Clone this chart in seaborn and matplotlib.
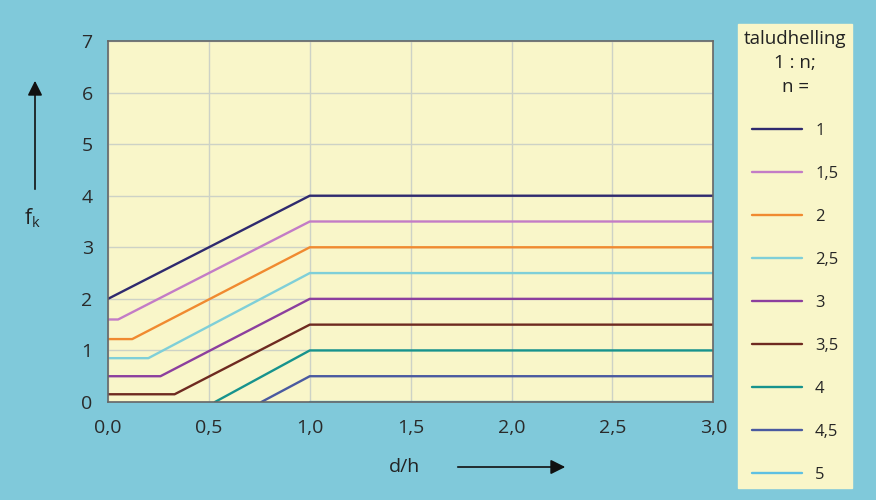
import pandas as pd
import seaborn as sns
import matplotlib.pyplot as plt

# breakpoints of each curve (d/h, f_k)
slopes = ["1", "1,5", "2", "2,5", "3", "3,5", "4", "4,5", "5"]
x_vals = [
    [0, 1.0, 3.0],
    [0, 0.05, 1.0, 3.0],
    [0, 0.12, 1.0, 3.0],
    [0, 0.20, 1.0, 3.0],
    [0, 0.26, 1.0, 3.0],
    [0, 0.33, 1.0, 3.0],
    [0.53, 1.0, 3.0],
    [0.76, 1.0, 3.0],
    [1.0, 3.0],
]
y_vals = [
    [2.0, 4.0, 4.0],
    [1.6, 1.6, 3.5, 3.5],
    [1.22, 1.22, 3.0, 3.0],
    [0.85, 0.85, 2.5, 2.5],
    [0.5, 0.5, 2.0, 2.0],
    [0.15, 0.15, 1.5, 1.5],
    [0.0, 1.0, 1.0],
    [0.0, 0.5, 0.5],
    [0.0, 0.0],
]
colors = ["#2f2a6e", "#c37cc6", "#f08a30", "#7fcfd8", "#8c3f9e",
          "#6e2a20", "#17938d", "#4a5aa0", "#5ec0e2"]
x_ticks = [0, 0.5, 1.0, 1.5, 2.0, 2.5, 3.0]
x_ticklabels = ["0,0", "0,5", "1,0", "1,5", "2,0", "2,5", "3,0"]

rows = []
for s, xs, ys in zip(slopes, x_vals, y_vals):
    for i, (x, y) in enumerate(zip(xs, ys)):
        rows.append({"n": s, "d/h": x, "fk": y, "i": i})
df = pd.DataFrame(rows)

sns.set_style("white")
plt.rcParams["font.family"] = ["Open Sans", "DejaVu Sans"]

bg = "#80c9da"
yellow = "#f9f6c9"

fig = plt.figure(figsize=(8.76, 5), dpi=100, facecolor=bg)
ax = fig.add_axes([0.1233, 0.196, 0.691, 0.722])
ax.set_facecolor(yellow)

sns.lineplot(data=df, x="d/h", y="fk", hue="n", hue_order=slopes,
             palette=colors, units="n", estimator=None, sort=False,
             linewidth=1.7, ax=ax)

ax.set_xlim(0, 3)
ax.set_ylim(0, 7)
ax.set_xticks(x_ticks)
ax.set_xticklabels(x_ticklabels)
ax.set_yticks(range(0, 8))
ax.tick_params(labelsize=14, length=0, colors="#2a2a2a")
ax.tick_params(axis="x", pad=12)
ax.tick_params(axis="y", pad=11)
ax.grid(True, color="#cdd2c6", linewidth=1)
ax.set_axisbelow(True)
for side, sp in ax.spines.items():
    sp.set_color("#666666")
    sp.set_linewidth(1.2)
ax.set_xlabel("")
ax.set_ylabel("")

handles, labels = ax.get_legend_handles_labels()
ax.get_legend().remove()
leg = fig.legend(handles, labels, loc="upper left",
                 bbox_to_anchor=(738 / 876, 1 - 24 / 500),
                 title="taludhelling\n1 : n;\nn =", title_fontsize=13.5,
                 fontsize=12, frameon=True, fancybox=False,
                 facecolor=yellow, edgecolor=yellow, framealpha=1,
                 handlelength=3.0, handletextpad=0.8, labelspacing=1.62,
                 borderpad=0.35, borderaxespad=0)
leg.get_title().set_multialignment("center")
leg.get_title().set_linespacing(1.42)
leg.get_title().set_color("#222222")

# axis labels with arrows
fig.text(404 / 876, 1 - 467 / 500, "d/h", fontsize=14, ha="center",
         va="center", color="#222222")
ax.annotate("", xy=(568 / 876, 1 - 467 / 500),
            xytext=(455 / 876, 1 - 467 / 500),
            xycoords="figure fraction", textcoords="figure fraction",
            annotation_clip=False,
            arrowprops=dict(arrowstyle="-|>", color="#111111",
                            lw=1.2, mutation_scale=22))
fig.text(32 / 876, 1 - 218 / 500, r"f$_\mathregular{k}$", fontsize=15,
         ha="center", va="center", color="#222222")
ax.annotate("", xy=(35 / 876, 1 - 78 / 500),
            xytext=(35 / 876, 1 - 192 / 500),
            xycoords="figure fraction", textcoords="figure fraction",
            annotation_clip=False,
            arrowprops=dict(arrowstyle="-|>", color="#111111",
                            lw=1.2, mutation_scale=22))

fig.savefig("out.png", dpi=100, facecolor=bg)
